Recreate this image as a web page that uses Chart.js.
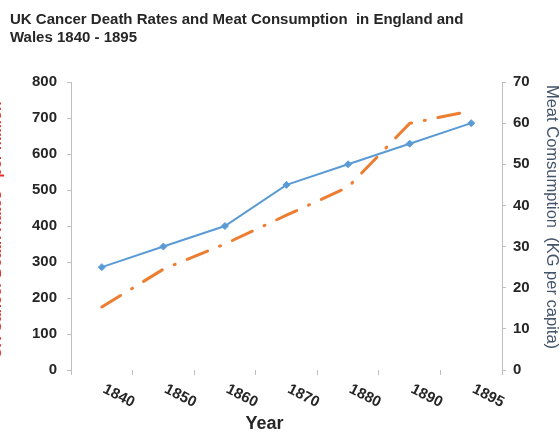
<!DOCTYPE html>
<html>
<head>
<meta charset="utf-8">
<script src="https://cdn.jsdelivr.net/npm/chart.js@4.4.1/dist/chart.umd.min.js"></script>
<style>
  html, body { margin: 0; padding: 0; background: #ffffff; }
  #wrap { width: 560px; height: 432px; position: relative; }
</style>
</head>
<body>
<div id="wrap"><canvas id="c" width="560" height="432"></canvas></div>
<script>
// ---- data ----
const years = ['1840', '1850', '1860', '1870', '1880', '1890', '1895'];
const cancerDeathRates = [175, 280, 350, 430, 508, 685, 720];
const meatConsumption = [25, 30, 35, 45, 50, 55, 60];
const leftTicks = [0, 100, 200, 300, 400, 500, 600, 700, 800];
const rightTicks = [0, 10, 20, 30, 40, 50, 60, 70];
const titleLines = ['UK Cancer Death Rates and Meat Consumption  in England and', 'Wales 1840 - 1895'];
const xTitle = 'Year';
const leftTitle = 'UK Cancer Death Rates - per million';
const rightTitle = 'Meat Comsumption  (KG per capita)';

const FONT = "'Liberation Sans', Arial, sans-serif";
const TEXT = '#262626';
const AXIS = '#bfbfbf';

const customText = {
  id: 'customText',
  afterDraw(chart) {
    const ctx = chart.ctx;
    const x = chart.scales.x;
    const area = chart.chartArea;
    ctx.save();
    // rotated category labels
    ctx.fillStyle = TEXT;
    ctx.font = 'bold 15px ' + FONT;
    ctx.textAlign = 'center';
    ctx.textBaseline = 'middle';
    years.forEach((lab, i) => {
      const px = x.getPixelForValue(i) + 17;
      ctx.save();
      ctx.translate(px, area.bottom + 26);
      ctx.rotate(27 * Math.PI / 180);
      ctx.fillText(lab, 0, 0);
      ctx.restore();
    });
    // x title
    ctx.font = 'bold 18px ' + FONT;
    ctx.fillText(xTitle, area.left + (area.right - area.left) / 2 - 22, 424);
    // left (clipped) title
    ctx.save();
    ctx.fillStyle = '#e8302a';
    ctx.font = 'bold 15px ' + FONT;
    ctx.translate(-3.4, 230);
    ctx.rotate(-Math.PI / 2);
    ctx.fillText(leftTitle, 0, 0);
    ctx.restore();
    // right title
    ctx.save();
    ctx.fillStyle = '#44546a';
    ctx.font = '16.5px ' + FONT;
    ctx.translate(551.5, 217);
    ctx.rotate(Math.PI / 2);
    ctx.fillText(rightTitle, 0, 0);
    ctx.restore();
    ctx.restore();
  }
};

new Chart(document.getElementById('c'), {
  type: 'line',
  data: {
    labels: years,
    datasets: [
      {
        label: 'Cancer Death Rates',
        data: cancerDeathRates,
        yAxisID: 'y',
        borderColor: '#ed7d31',
        backgroundColor: '#ed7d31',
        borderWidth: 3,
        borderDash: [22, 13, 1, 13],
        borderCapStyle: 'round',
        pointRadius: 0,
        tension: 0,
        fill: false,
        order: 2
      },
      {
        label: 'Meat Consumption',
        data: meatConsumption,
        yAxisID: 'y1',
        borderColor: '#5b9bd5',
        backgroundColor: '#5b9bd5',
        borderWidth: 2,
        pointStyle: 'rectRot',
        pointRadius: 3.5,
        pointBorderWidth: 1,
        tension: 0,
        fill: false,
        order: 1
      }
    ]
  },
  options: {
    responsive: false,
    animation: false,
    devicePixelRatio: 1,
    layout: { padding: { left: 10, right: 0, top: 0, bottom: 0 } },
    plugins: {
      legend: { display: false },
      tooltip: { enabled: false },
      title: {
        display: true,
        text: titleLines,
        align: 'start',
        color: TEXT,
        font: { family: FONT, size: 15, weight: 'bold', lineHeight: 1.2 },
        padding: { top: 11, bottom: 35 }
      }
    },
    scales: {
      x: {
        type: 'category',
        offset: true,
        grid: { display: true, offset: true, drawOnChartArea: false, drawTicks: true, tickLength: 5, color: AXIS },
        border: { display: false },
        ticks: { display: false },
        afterFit(scale) { scale.height = 62; }
      },
      y: {
        position: 'left',
        min: 0,
        max: 800,
        afterBuildTicks(scale) { scale.ticks = leftTicks.map(v => ({ value: v })); },
        grid: { drawOnChartArea: false, drawTicks: true, tickLength: 4, color: AXIS },
        border: { display: true, color: AXIS, width: 1 },
        ticks: { color: TEXT, padding: 10, font: { family: FONT, size: 15, weight: 'bold' } },
        afterFit(scale) { scale.width = 61; }
      },
      y1: {
        position: 'right',
        min: 0,
        max: 70,
        afterBuildTicks(scale) { scale.ticks = rightTicks.map(v => ({ value: v })); },
        grid: { drawOnChartArea: false, drawTicks: true, tickLength: 4, color: AXIS },
        border: { display: true, color: AXIS, width: 1 },
        ticks: { color: TEXT, padding: 7, font: { family: FONT, size: 15, weight: 'bold' } },
        afterFit(scale) { scale.width = 58; }
      }
    }
  },
  plugins: [customText]
});
</script>
</body>
</html>
